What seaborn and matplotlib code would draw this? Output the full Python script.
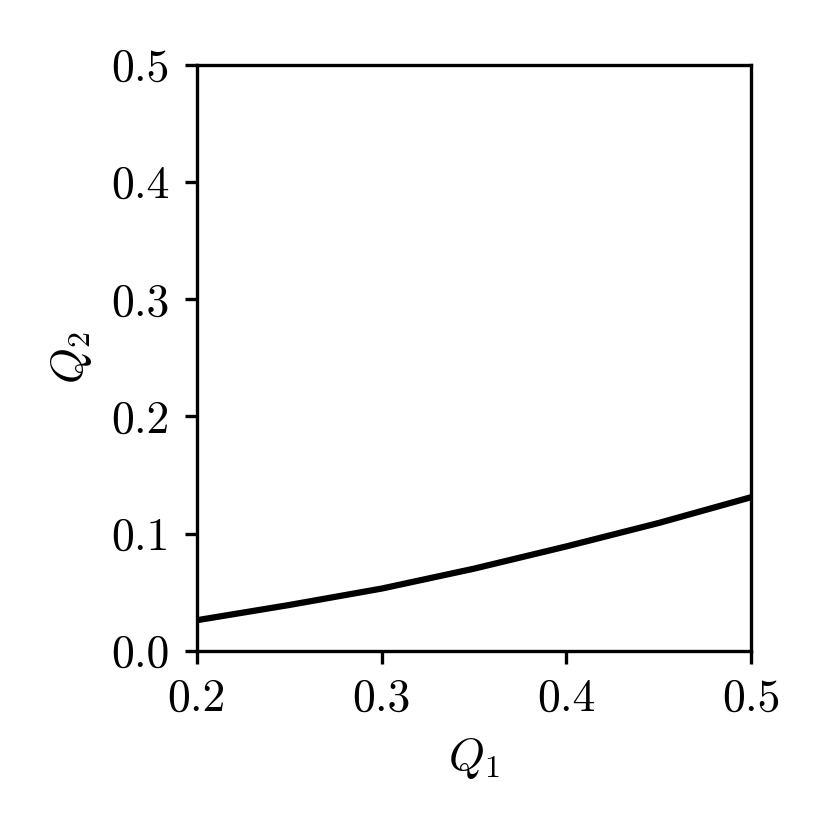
import numpy as np
import pandas as pd
import matplotlib
matplotlib.use("Agg")
import matplotlib.pyplot as plt
import seaborn as sns

# nilai kurva
q1 = [0.20, 0.25, 0.30, 0.35, 0.40, 0.45, 0.50]
q2 = [0.026, 0.039, 0.053, 0.070, 0.089, 0.109, 0.131]

df = pd.DataFrame({"Q1": q1, "Q2": q2})

sns.set_style("ticks")
plt.rcParams["font.family"] = ["serif"]
plt.rcParams["font.serif"] = ["cmr10"]
plt.rcParams["mathtext.fontset"] = "cm"
plt.rcParams["axes.formatter.use_mathtext"] = True
plt.rcParams["axes.unicode_minus"] = False
plt.rcParams["text.color"] = "black"
plt.rcParams["axes.labelcolor"] = "black"
plt.rcParams["xtick.color"] = "black"
plt.rcParams["ytick.color"] = "black"

fig = plt.figure(figsize=(830 / 300, 830 / 300), dpi=300)
ax = fig.add_axes([0.237, 0.216, 0.668, 0.706])

sns.lineplot(data=df, x="Q1", y="Q2", color="black", linewidth=1.5, ax=ax)

ax.set_xlim(0.2, 0.5)
ax.set_ylim(0.0, 0.5)
ax.set_xticks([0.2, 0.3, 0.4, 0.5])
ax.set_yticks([0.0, 0.1, 0.2, 0.3, 0.4, 0.5])
ax.set_xticklabels(["0.2", "0.3", "0.4", "0.5"])
ax.set_yticklabels(["0.0", "0.1", "0.2", "0.3", "0.4", "0.5"])
ax.set_xlabel("$Q_1$", fontsize=11)
ax.set_ylabel("$Q_2$", fontsize=11)
ax.tick_params(labelsize=11, width=0.8, length=3, color="black", labelcolor="black")
for s in ax.spines.values():
    s.set_linewidth(0.8)
    s.set_color("black")

fig.savefig("out.png", dpi=300)
